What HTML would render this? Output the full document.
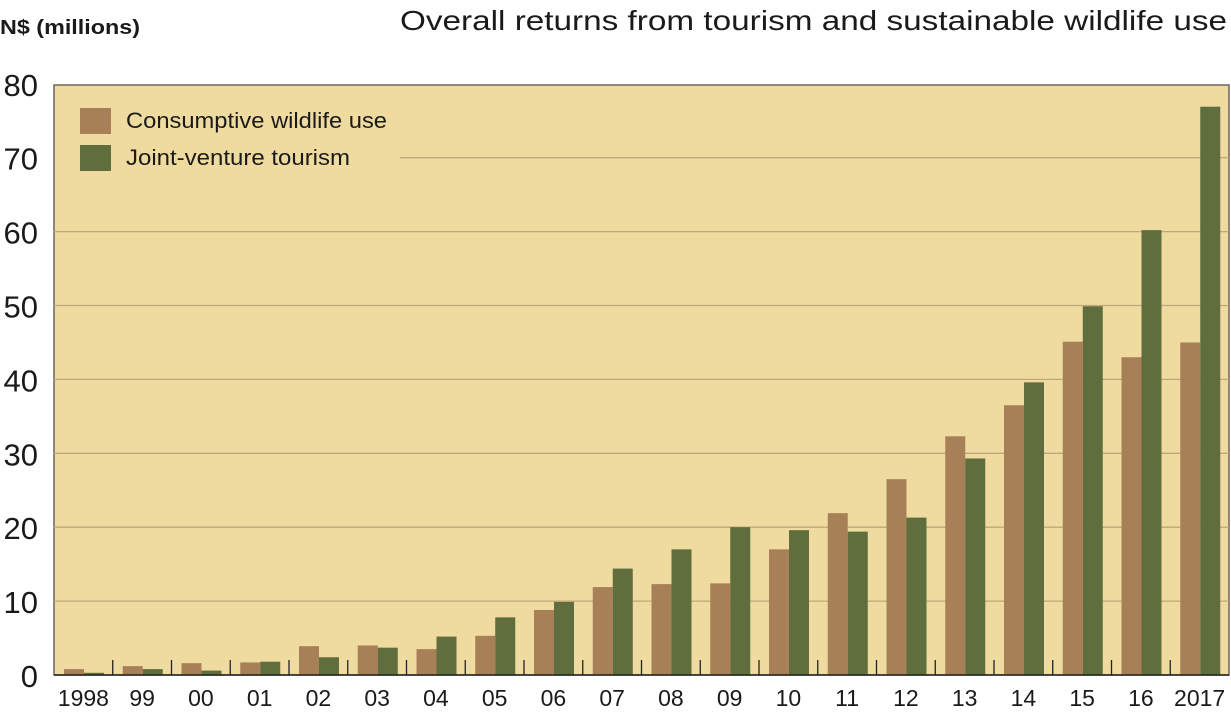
<!DOCTYPE html>
<html><head><meta charset="utf-8"><style>
html,body{margin:0;padding:0;background:#fff;}
svg{display:block;font-family:"Liberation Sans",sans-serif;}
</style></head><body>
<svg id="c" width="1231" height="714" viewBox="0 0 1231 714" xmlns="http://www.w3.org/2000/svg">
<rect x="54" y="85" width="1175" height="590" fill="#efdba0" stroke="#6e6460" stroke-width="1.5"/>
<text x="0" y="34" font-size="20" font-weight="bold" fill="#1a1a1a" textLength="140" lengthAdjust="spacingAndGlyphs">N$ (millions)</text>
<text x="400" y="30" font-size="28" fill="#1a1a1a" textLength="827" lengthAdjust="spacingAndGlyphs">Overall returns from tourism and sustainable wildlife use</text>
<g id="g"></g>
<rect x="80" y="108" width="31" height="26" fill="#a88058"/>
<rect x="80" y="145" width="31" height="26" fill="#5f6e3c"/>
<text x="126" y="128" font-size="22" fill="#1a1a1a" textLength="261" lengthAdjust="spacingAndGlyphs">Consumptive wildlife use</text>
<text x="126" y="165" font-size="22" fill="#1a1a1a" textLength="224" lengthAdjust="spacingAndGlyphs">Joint-venture tourism</text>
</svg>
<script>
var ns="http://www.w3.org/2000/svg",g=document.getElementById("g");
function el(t,a,txt){var e=document.createElementNS(ns,t);for(var k in a)e.setAttribute(k,a[k]);if(txt!=null)e.textContent=txt;g.appendChild(e);return e;}
var y0=675,s=7.39;
for(var v=0;v<=80;v+=10){var y=y0-v*s;
 if(v>0&&v<80){el("line",{x1:v==70?400:54,x2:1229,y1:y,y2:y,stroke:"#bfa878","stroke-width":1.3});}
 el("text",{x:38,y:y+12,"font-size":31,"text-anchor":"end",fill:"#1a1a1a"},String(v));}
var b=[0.8,1.2,1.6,1.7,3.9,4.0,3.5,5.3,8.8,11.9,12.3,12.4,17.0,21.9,26.5,32.3,36.5,45.1,43.0,45.0];
var gr=[0.3,0.8,0.6,1.8,2.4,3.7,5.2,7.8,9.9,14.4,17.0,20.0,19.6,19.4,21.3,29.3,39.6,49.9,60.2,76.9];
var lab=["1998","99","00","01","02","03","04","05","06","07","08","09","10","11","12","13","14","15","16","2017"];
var w=58.75;
for(var i=0;i<20;i++){var x=54+i*w;
 el("rect",{x:x+10,y:y0-b[i]*s,width:20,height:b[i]*s,fill:"#a88058"});
 el("rect",{x:x+30,y:y0-gr[i]*s,width:20,height:gr[i]*s,fill:"#5f6e3c"});
 if(i>0)el("line",{x1:x,x2:x,y1:y0,y2:y0-15,stroke:"#222","stroke-width":1.3});
 el("text",{x:x+w/2,y:706,"font-size":23,"text-anchor":"middle",fill:"#1a1a1a"},lab[i]);}
el("line",{x1:54,x2:1229,y1:y0,y2:y0,stroke:"#222","stroke-width":1.5});
</script>
</body></html>
